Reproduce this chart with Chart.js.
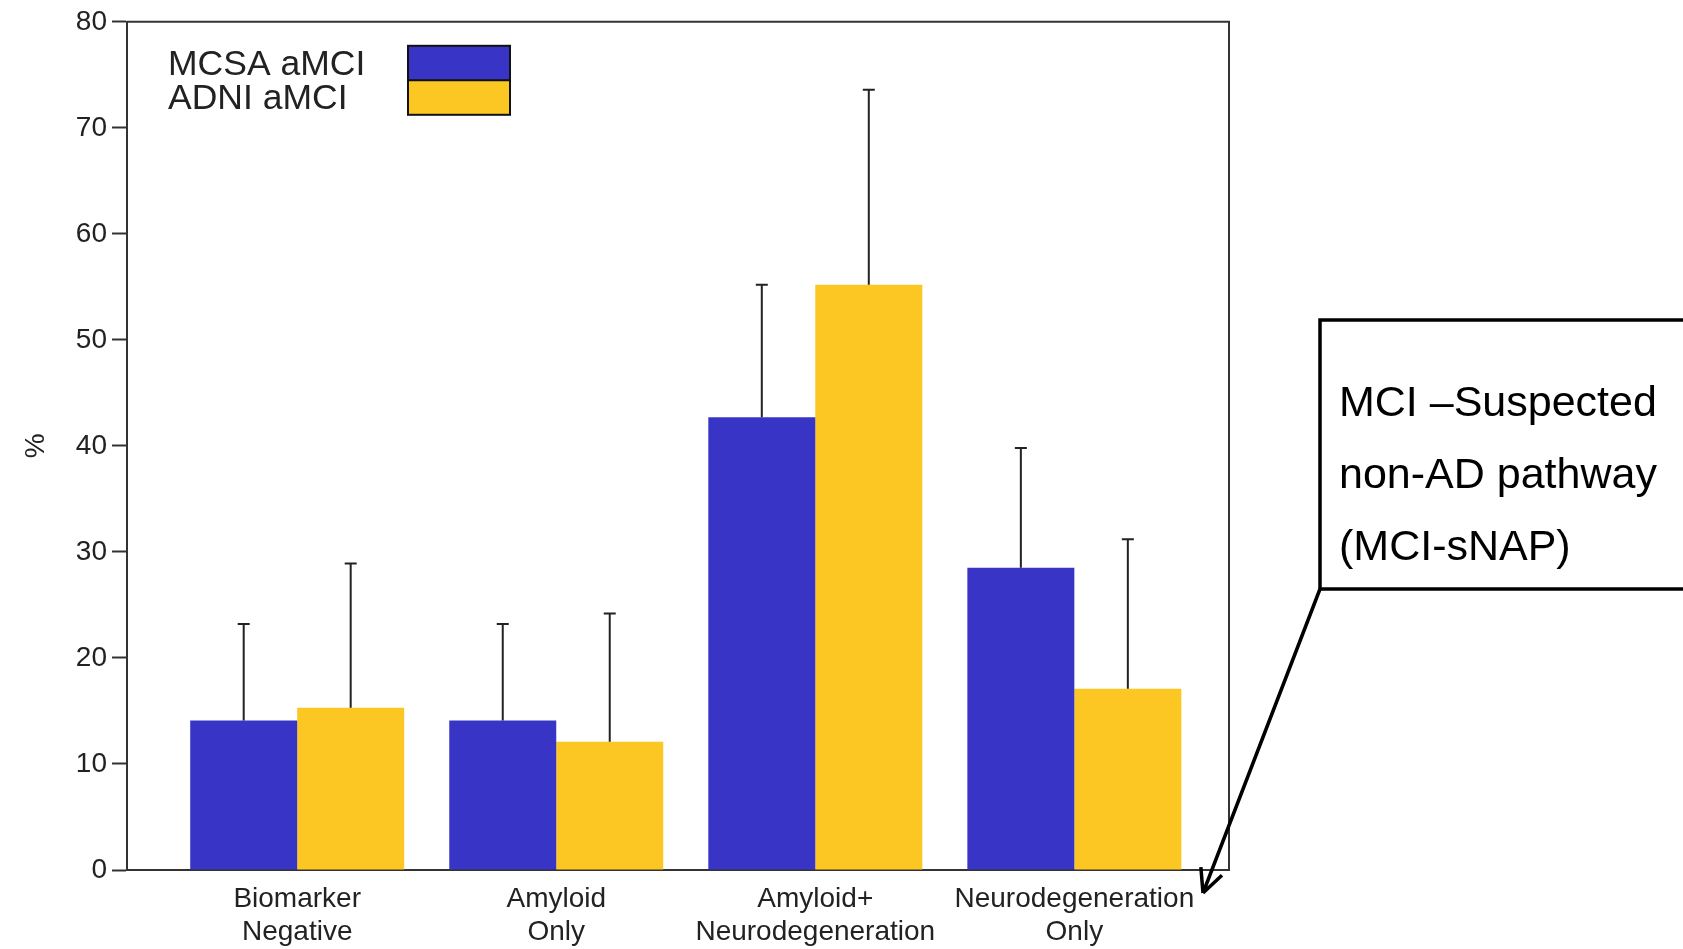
<!DOCTYPE html>
<html>
<head>
<meta charset="utf-8">
<script src="https://cdn.jsdelivr.net/npm/chart.js@4.4.1/dist/chart.umd.min.js"></script>
<style>
  html, body { margin: 0; padding: 0; background: #fff; }
  #wrap { width: 1683px; height: 949px; position: relative; }
</style>
</head>
<body>
<div id="wrap"><canvas id="c" width="1683" height="949"></canvas></div>
<script>
// ---- data ----
const categories = ['Biomarker\nNegative', 'Amyloid\nOnly', 'Amyloid+\nNeurodegeneration', 'Neurodegeneration\nOnly'];
const seriesNames = ['MCSA aMCI', 'ADNI aMCI'];
const mcsaValues = [14.1, 14.1, 42.7, 28.5];
const adniValues = [15.3, 12.1, 55.2, 17.1];
const mcsaUpper = [23.2, 23.2, 55.2, 39.8];
const adniUpper = [28.9, 24.2, 73.6, 31.2];
const yTicks = [0, 10, 20, 30, 40, 50, 60, 70, 80];
const annotationLines = ['MCI \u2013Suspected', 'non-AD pathway', '(MCI-sNAP)'];

const BLUE = '#3734C6';
const YELLOW = '#FCC623';
const INK = '#222222';
const FONT = '"Liberation Sans", Arial, Helvetica, sans-serif';

const toPoints = vals => vals.map((v, i) => ({ x: i + 1, y: v }));

const errorBars = {
  id: 'errorBars',
  afterDatasetsDraw(chart) {
    const ctx = chart.ctx;
    const ys = chart.scales.y;
    ctx.save();
    ctx.strokeStyle = INK;
    ctx.lineWidth = 2;
    chart.data.datasets.forEach((ds, di) => {
      const meta = chart.getDatasetMeta(di);
      meta.data.forEach((el, i) => {
        const top = ys.getPixelForValue(ds.upper[i]);
        ctx.beginPath();
        ctx.moveTo(el.x, el.y);
        ctx.lineTo(el.x, top);
        ctx.moveTo(el.x - 6, top);
        ctx.lineTo(el.x + 6, top);
        ctx.stroke();
      });
    });
    ctx.restore();
  }
};

const frameAndLegend = {
  id: 'frameAndLegend',
  afterDraw(chart) {
    const ctx = chart.ctx;
    const a = chart.chartArea;
    ctx.save();
    // frame (top and right)
    ctx.strokeStyle = '#333';
    ctx.lineWidth = 2;
    ctx.beginPath();
    ctx.moveTo(a.left, a.top);
    ctx.lineTo(a.right, a.top);
    ctx.lineTo(a.right, a.bottom);
    ctx.stroke();

    // legend: text on left, stacked swatches on right
    ctx.font = '35.5px ' + FONT;
    ctx.fillStyle = INK;
    ctx.textBaseline = 'alphabetic';
    ctx.textAlign = 'left';
    const tx = a.left + 41;
    ctx.fillText(chart.data.datasets[0].label, tx, a.top + 53);
    ctx.fillText(chart.data.datasets[1].label, tx, a.top + 87);
    const sx = a.left + 281, sy = a.top + 24, sw = 102, sh = 34.5;
    ctx.fillStyle = chart.data.datasets[0].backgroundColor;
    ctx.fillRect(sx, sy, sw, sh);
    ctx.fillStyle = chart.data.datasets[1].backgroundColor;
    ctx.fillRect(sx, sy + sh, sw, sh);
    ctx.strokeStyle = '#111';
    ctx.lineWidth = 2;
    ctx.strokeRect(sx, sy, sw, sh * 2);
    ctx.beginPath();
    ctx.moveTo(sx, sy + sh);
    ctx.lineTo(sx + sw, sy + sh);
    ctx.stroke();

    // annotation callout
    const bx = 1320, by = 320, bh = 269;
    ctx.strokeStyle = '#000';
    ctx.lineWidth = 3.5;
    ctx.strokeRect(bx, by, 420, bh);
    ctx.fillStyle = '#000';
    ctx.font = '43px ' + FONT;
    annotationLines.forEach((t, i) => ctx.fillText(t, bx + 19, by + 96 + i * 72));
    // arrow
    const x0 = bx, y0 = by + bh, x1 = 1203, y1 = 893;
    ctx.lineWidth = 3.5;
    ctx.beginPath();
    ctx.moveTo(x0, y0);
    ctx.lineTo(x1, y1);
    const ang = Math.atan2(y1 - y0, x1 - x0);
    const hl = 26, ha = 0.45;
    ctx.moveTo(x1, y1);
    ctx.lineTo(x1 - hl * Math.cos(ang - ha), y1 - hl * Math.sin(ang - ha));
    ctx.moveTo(x1, y1);
    ctx.lineTo(x1 - hl * Math.cos(ang + ha), y1 - hl * Math.sin(ang + ha));
    ctx.stroke();
    ctx.restore();
  }
};

new Chart(document.getElementById('c'), {
  type: 'bar',
  data: {
    datasets: [
      { label: seriesNames[0], data: toPoints(mcsaValues), upper: mcsaUpper, backgroundColor: BLUE,
        borderWidth: 0, categoryPercentage: 0.826, barPercentage: 1.0 },
      { label: seriesNames[1], data: toPoints(adniValues), upper: adniUpper, backgroundColor: YELLOW,
        borderWidth: 0, categoryPercentage: 0.826, barPercentage: 1.0 }
    ]
  },
  options: {
    responsive: false,
    animation: false,
    layout: { padding: { top: 19, right: 454, left: 0, bottom: 0 } },
    plugins: { legend: { display: false }, tooltip: { enabled: false } },
    scales: {
      x: {
        type: 'linear',
        min: 0.343,
        max: 4.597,
        offset: false,
        afterBuildTicks(scale) { scale.ticks = categories.map((c, i) => ({ value: i + 1 })); },
        afterFit(scale) { scale.height = 79; },
        grid: { display: false, drawTicks: false },
        border: { display: true, color: '#333', width: 2 },
        ticks: {
          autoSkip: false,
          maxRotation: 0,
          padding: 12,
          color: INK,
          font: { family: FONT, size: 28, lineHeight: 1.2 },
          callback(v) { const c = categories[Math.round(v) - 1]; return c ? c.split('\n') : ''; }
        }
      },
      y: {
        min: 0,
        max: 80,
        afterBuildTicks(scale) { scale.ticks = yTicks.map(v => ({ value: v })); },
        afterFit(scale) { scale.width = 127; },
        grid: { drawOnChartArea: false, drawTicks: true, tickLength: 15, tickColor: '#333', tickWidth: 2 },
        border: { display: true, color: '#333', width: 2 },
        title: { display: true, text: '%', color: INK, font: { family: FONT, size: 28 }, padding: { top: 19, bottom: 0 } },
        ticks: { padding: 5, color: INK, font: { family: FONT, size: 28 } }
      }
    }
  },
  plugins: [errorBars, frameAndLegend]
});
</script>
</body>
</html>
